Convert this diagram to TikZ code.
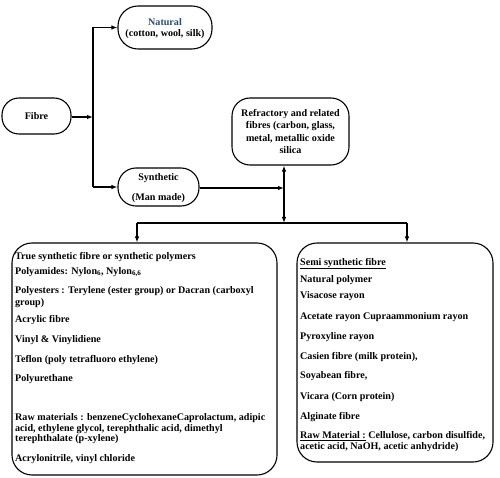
\documentclass[tikz,border=0pt]{standalone}
\usepackage{fontspec}
\setmainfont{Liberation Serif}
\usetikzlibrary{arrows.meta}
\definecolor{natblue}{RGB}{44,74,120}
\begin{document}
\begin{tikzpicture}[x=1pt,y=-1pt,
  every node/.style={font=\fontsize{10.1}{11}\selectfont\bfseries},
  box/.style={draw,line width=1.1pt,rounded corners=#1,inner sep=0pt},
  box/.default=16pt,
  ln/.style={anchor=base west,inner sep=0pt},
  ctr/.style={anchor=base,inner sep=0pt},
  arr/.style={-{Latex[length=6pt,width=4.5pt]},line width=1.1pt},
  con/.style={line width=1.1pt}]
\useasboundingbox (0,0) rectangle (500,478);
% top boxes
\node[box=17pt,minimum width=69pt,minimum height=36pt] (fibre) at (36.5,116) {};
\node[ctr] (fibret) at (36.5,120) {Fibre};
\node[box=20pt,minimum width=94pt,minimum height=43pt] (natural) at (165,27.5) {};
\node[ctr,text=natblue] (nat1) at (165,25.5) {Natural};
\node[ctr] (nat2) at (165,37) {(cotton, wool, silk)};
\node[box=18pt,minimum width=81pt,minimum height=38pt] (synth) at (158.5,187) {};
\node[ctr] (syn1) at (158.5,180.5) {Synthetic};
\node[ctr] (syn2) at (158.5,200.5) {(Man made)};
\node[box=18pt,minimum width=117pt,minimum height=67pt] (refr) at (290.5,131.5) {};
\node[ctr] (ref1) at (290.5,116.5) {Refractory and related};
\node[ctr] (ref2) at (290.5,129) {fibres (carbon, glass,};
\node[ctr] (ref3) at (290.5,141.5) {metal, metallic oxide};
\node[ctr] (ref4) at (290.5,153.5) {silica};
% connectors top
\coordinate (fj) at (93,117);
\coordinate (fjn) at (93,27.5);
\coordinate (fjs) at (93,187);
\draw[arr] (fibre.east |- fj) -- (fj);
\draw[con] (fjn) -- (fjs);
\draw[arr] (fjn) -- (natural.west);
\draw[arr] (fjs) -- (synth.west);
\coordinate (sj) at (284,188);
\coordinate (hj) at (284,223);
\coordinate (hl) at (137,223);
\coordinate (hr) at (407,223);
\draw[arr] (synth.east |- sj) -- (sj);
\draw[arr] (sj) -- (refr.south -| sj);
\draw[arr] (sj) -- (hj);
\draw[con] (hl) -- (hr);
% bottom boxes
\node[box=20pt,minimum width=265pt,minimum height=232pt] (left) at (144.5,359) {};
\node[box=20pt,minimum width=196pt,minimum height=219pt] (right) at (395,352.5) {};
\draw[arr] (hl) -- (hl |- left.north);
\draw[arr] (hr) -- (hr |- right.north);
% left box text
\node[ln] (a1) at (15,259) {True synthetic fibre or synthetic polymers};
\node[ln] (a2) at (15,274) {Polyamides: Nylon\textsubscript{6}, Nylon\textsubscript{6,6}};
\node[ln] (a3) at (15,293) {Polyesters : Terylene (ester group) or Dacran (carboxyl};
\node[ln] (a4) at (15,305) {group)};
\node[ln] (a5) at (15,322) {Acrylic fibre};
\node[ln] (a6) at (15,342) {Vinyl \& Vinylidiene};
\node[ln] (a7) at (15,362) {Teflon (poly tetrafluoro ethylene)};
\node[ln] (a8) at (15,381) {Polyurethane};
\node[ln] (a9) at (15,420.5) {Raw materials : benzeneCyclohexaneCaprolactum, adipic};
\node[ln] (a10) at (15,431) {acid, ethylene glycol, terephthalic acid, dimethyl};
\node[ln] (a11) at (15,441.5) {terephthalate (p-xylene)};
\node[ln] (a12) at (15,461.5) {Acrylonitrile, vinyl chloride};
% right box text
\node[ln] (b1) at (300,265) {\underline{Semi synthetic fibre}};
\node[ln] (b2) at (300,282) {Natural polymer};
\node[ln] (b3) at (300,298) {Visacose rayon};
\node[ln] (b4) at (300,319) {Acetate rayon Cupraammonium rayon};
\node[ln] (b5) at (300,339) {Pyroxyline rayon};
\node[ln] (b6) at (300,359) {Casien fibre (milk protein),};
\node[ln] (b7) at (300,378) {Soyabean fibre,};
\node[ln] (b8) at (300,399) {Vicara (Corn protein)};
\node[ln] (b9) at (300,419) {Alginate fibre};
\node[ln] (b10) at (300,438.5) {\underline{Raw Material :} Cellulose, carbon disulfide,};
\node[ln] (b11) at (300,449) {acetic acid, NaOH, acetic anhydride)};
\end{tikzpicture}
\end{document}
